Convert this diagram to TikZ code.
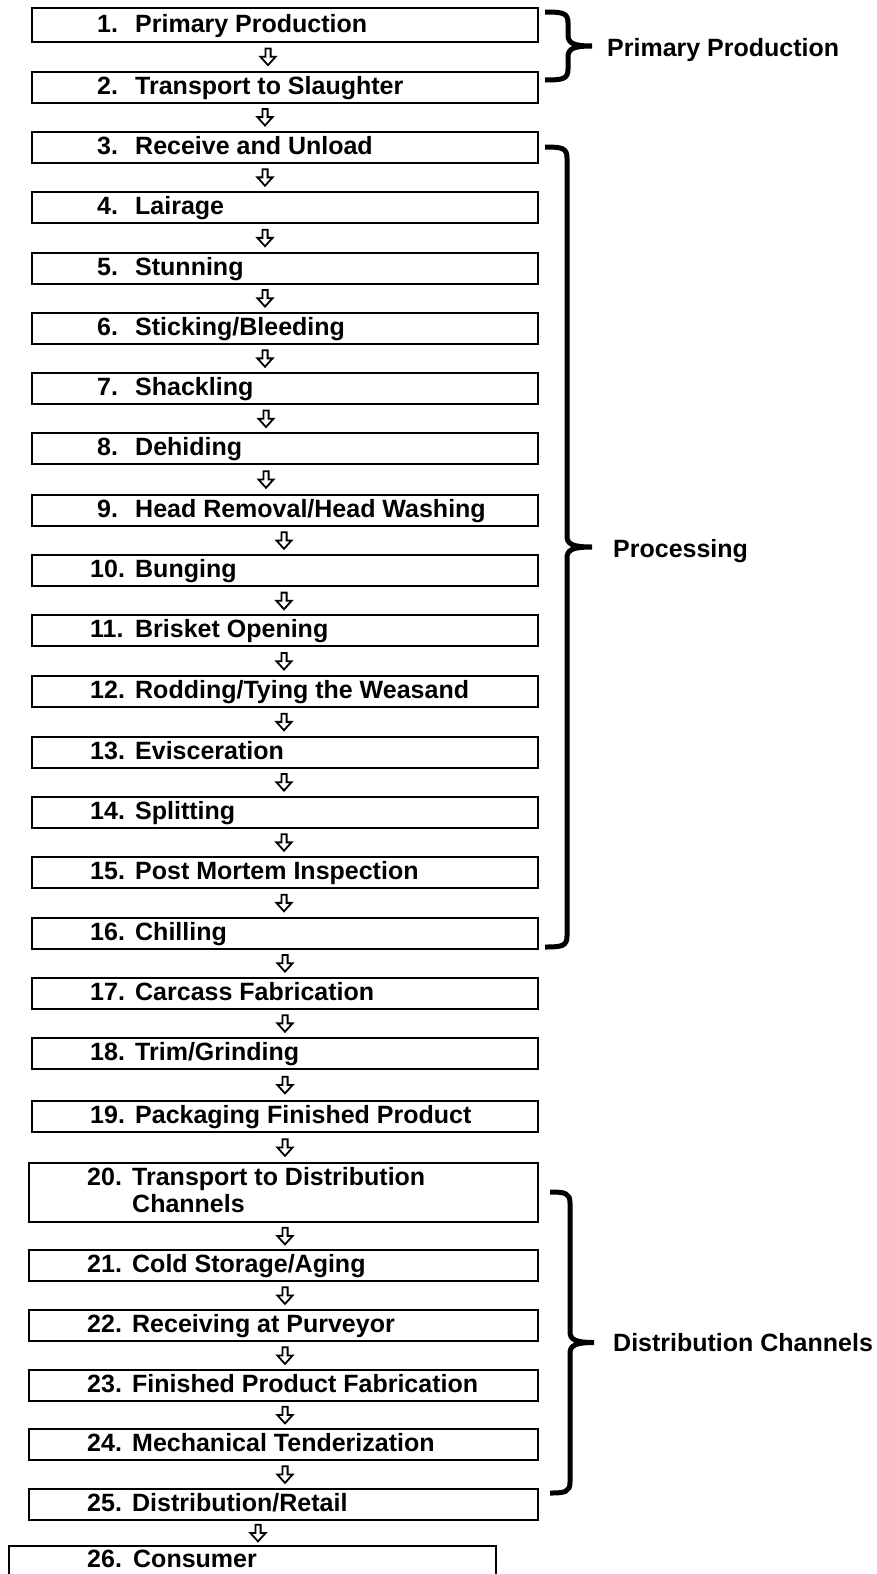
\documentclass[tikz,border=0pt]{standalone}
\usepackage{fontspec}
\setmainfont{Liberation Sans}
\usetikzlibrary{calc}

\tikzset{
  box/.style={draw, line width=2pt, rectangle, anchor=north west, inner sep=0pt,
              minimum width=506pt, minimum height=31pt},
  widebox/.style={box, minimum width=509pt},
  lbl/.style={anchor=base west, inner sep=0pt, font=\fontsize{25}{27}\selectfont\bfseries},
  arrowline/.style={draw, line width=1.8pt, line join=miter},
  bracestyle/.style={line width=5pt, line cap=butt},
  downarr/.pic={\path[arrowline] (-2.6,-8.2) -- (2.6,-8.2) -- (2.6,0) -- (7.6,0)
                 -- (0,8.4) -- (-7.6,0) -- (-2.6,0) -- cycle;}
}
\newcommand\boxnum[2]{\makebox[#1][l]{#2}}
% curly brace: left end x, spine x, tip x, top y, bottom y
\newcommand\curlybrace[5]{%
  \pgfmathsetmacro\bmid{(#4+#5)/2}%
  \draw[bracestyle] (#1,#4) .. controls (#2-5,#4) and (#2,#4+1) .. (#2,#4+11)
    -- (#2,\bmid-11) .. controls (#2,\bmid-3) and (#2+5,\bmid) .. (#3,\bmid)
    .. controls (#2+5,\bmid) and (#2,\bmid+3) .. (#2,\bmid+11)
    -- (#2,#5-11) .. controls (#2,#5-1) and (#2-5,#5) .. (#1,#5);}

\begin{document}
\begin{tikzpicture}[x=1pt, y=-1pt]
\fill[white] (0,0) rectangle (876,1574);
\useasboundingbox (0,0) rectangle (876,1574);
\clip (0,0) rectangle (876,1574);

% process steps
\node[box, minimum height=34pt] (b1) at (31,7) {};
\node[box] (b2)  at (31,70.5) {};
\node[box] (b3)  at (31,130.7) {};
\node[box] (b4)  at (31,191) {};
\node[box] (b5)  at (31,251.7) {};
\node[box] (b6)  at (31,311.7) {};
\node[box] (b7)  at (31,372) {};
\node[box] (b8)  at (31,432.3) {};
\node[box] (b9)  at (31,493.5) {};
\node[box] (b10) at (31,554.3) {};
\node[box] (b11) at (31,614.3) {};
\node[box] (b12) at (31,675) {};
\node[box] (b13) at (31,735.7) {};
\node[box] (b14) at (31,795.7) {};
\node[box] (b15) at (31,856) {};
\node[box] (b16) at (31,916.7) {};
\node[box] (b17) at (31,976.7) {};
\node[box] (b18) at (31,1037) {};
\node[box] (b19) at (31,1100) {};
\node[widebox, minimum height=59pt] (b20) at (28,1162) {};
\node[widebox] (b21) at (28,1249) {};
\node[widebox] (b22) at (28,1309) {};
\node[widebox] (b23) at (28,1369) {};
\node[widebox] (b24) at (28,1428) {};
\node[widebox] (b25) at (28,1488) {};
\node[box, minimum width=487pt, minimum height=80pt] (b26) at (8,1545) {};

% step labels
\node[lbl] (t1)  at (97,32.3)  {\boxnum{38pt}{1.}Primary Production};
\node[lbl] (t2)  at (97,94)    {\boxnum{38pt}{2.}Transport to Slaughter};
\node[lbl] (t3)  at (97,154.2) {\boxnum{38pt}{3.}Receive and Unload};
\node[lbl] (t4)  at (97,214.5) {\boxnum{38pt}{4.}Lairage};
\node[lbl] (t5)  at (97,275.2) {\boxnum{38pt}{5.}Stunning};
\node[lbl] (t6)  at (97,335.2) {\boxnum{38pt}{6.}Sticking/Bleeding};
\node[lbl] (t7)  at (97,395.5) {\boxnum{38pt}{7.}Shackling};
\node[lbl] (t8)  at (97,455.8) {\boxnum{38pt}{8.}Dehiding};
\node[lbl] (t9)  at (97,517)   {\boxnum{38pt}{9.}Head Removal/Head Washing};
\node[lbl] (t10) at (90,577.8) {\boxnum{45pt}{10.}Bunging};
\node[lbl] (t11) at (90,637.8) {\boxnum{45pt}{11.}Brisket Opening};
\node[lbl] (t12) at (90,698.5) {\boxnum{45pt}{12.}Rodding/Tying the Weasand};
\node[lbl] (t13) at (90,759.2) {\boxnum{45pt}{13.}Evisceration};
\node[lbl] (t14) at (90,819.2) {\boxnum{45pt}{14.}Splitting};
\node[lbl] (t15) at (90,879.5) {\boxnum{45pt}{15.}Post Mortem Inspection};
\node[lbl] (t16) at (90,940.2) {\boxnum{45pt}{16.}Chilling};
\node[lbl] (t17) at (90,1000.2) {\boxnum{45pt}{17.}Carcass Fabrication};
\node[lbl] (t18) at (90,1060.5) {\boxnum{45pt}{18.}Trim/Grinding};
\node[lbl] (t19) at (90,1123.5) {\boxnum{45pt}{19.}Packaging Finished Product};
\node[lbl] (t20) at (87,1185)  {\boxnum{45pt}{20.}Transport to Distribution};
\node[lbl] (t20b) at (132,1212) {Channels};
\node[lbl] (t21) at (87,1272.5) {\boxnum{45pt}{21.}Cold Storage/Aging};
\node[lbl] (t22) at (87,1332.5) {\boxnum{45pt}{22.}Receiving at Purveyor};
\node[lbl] (t23) at (87,1392.5) {\boxnum{45pt}{23.}Finished Product Fabrication};
\node[lbl] (t24) at (87,1451.5) {\boxnum{45pt}{24.}Mechanical Tenderization};
\node[lbl] (t25) at (87,1511.5) {\boxnum{45pt}{25.}Distribution/Retail};
\node[lbl] (t26) at (87,1567)  {\boxnum{46pt}{26.}Consumer};

% hollow arrows between consecutive steps
\foreach \a/\b/\ax in {1/2/268, 2/3/265, 3/4/265, 4/5/265, 5/6/265, 6/7/265,
    7/8/266, 8/9/266, 9/10/284, 10/11/284, 11/12/284, 12/13/284, 13/14/284,
    14/15/284, 15/16/284, 16/17/285, 17/18/285, 18/19/285, 19/20/285,
    20/21/285, 21/22/285, 22/23/285, 23/24/285, 24/25/285, 25/26/258} {
  \coordinate (m) at ($(b\a.south)!0.5!(b\b.north)$);
  \coordinate (ax) at (\ax,0);
  \pic at (m -| ax) {downarr};
}

% stage braces and their labels
\curlybrace{545}{568}{592}{12}{80}
\curlybrace{545}{567}{592}{147}{947}
\curlybrace{550}{570}{594}{1192}{1493}
\node[lbl] (pp)   at (607,56)   {Primary Production};
\node[lbl] (proc) at (613,557)  {Processing};
\node[lbl] (dist) at (613,1351) {Distribution Channels};
\end{tikzpicture}
\end{document}
